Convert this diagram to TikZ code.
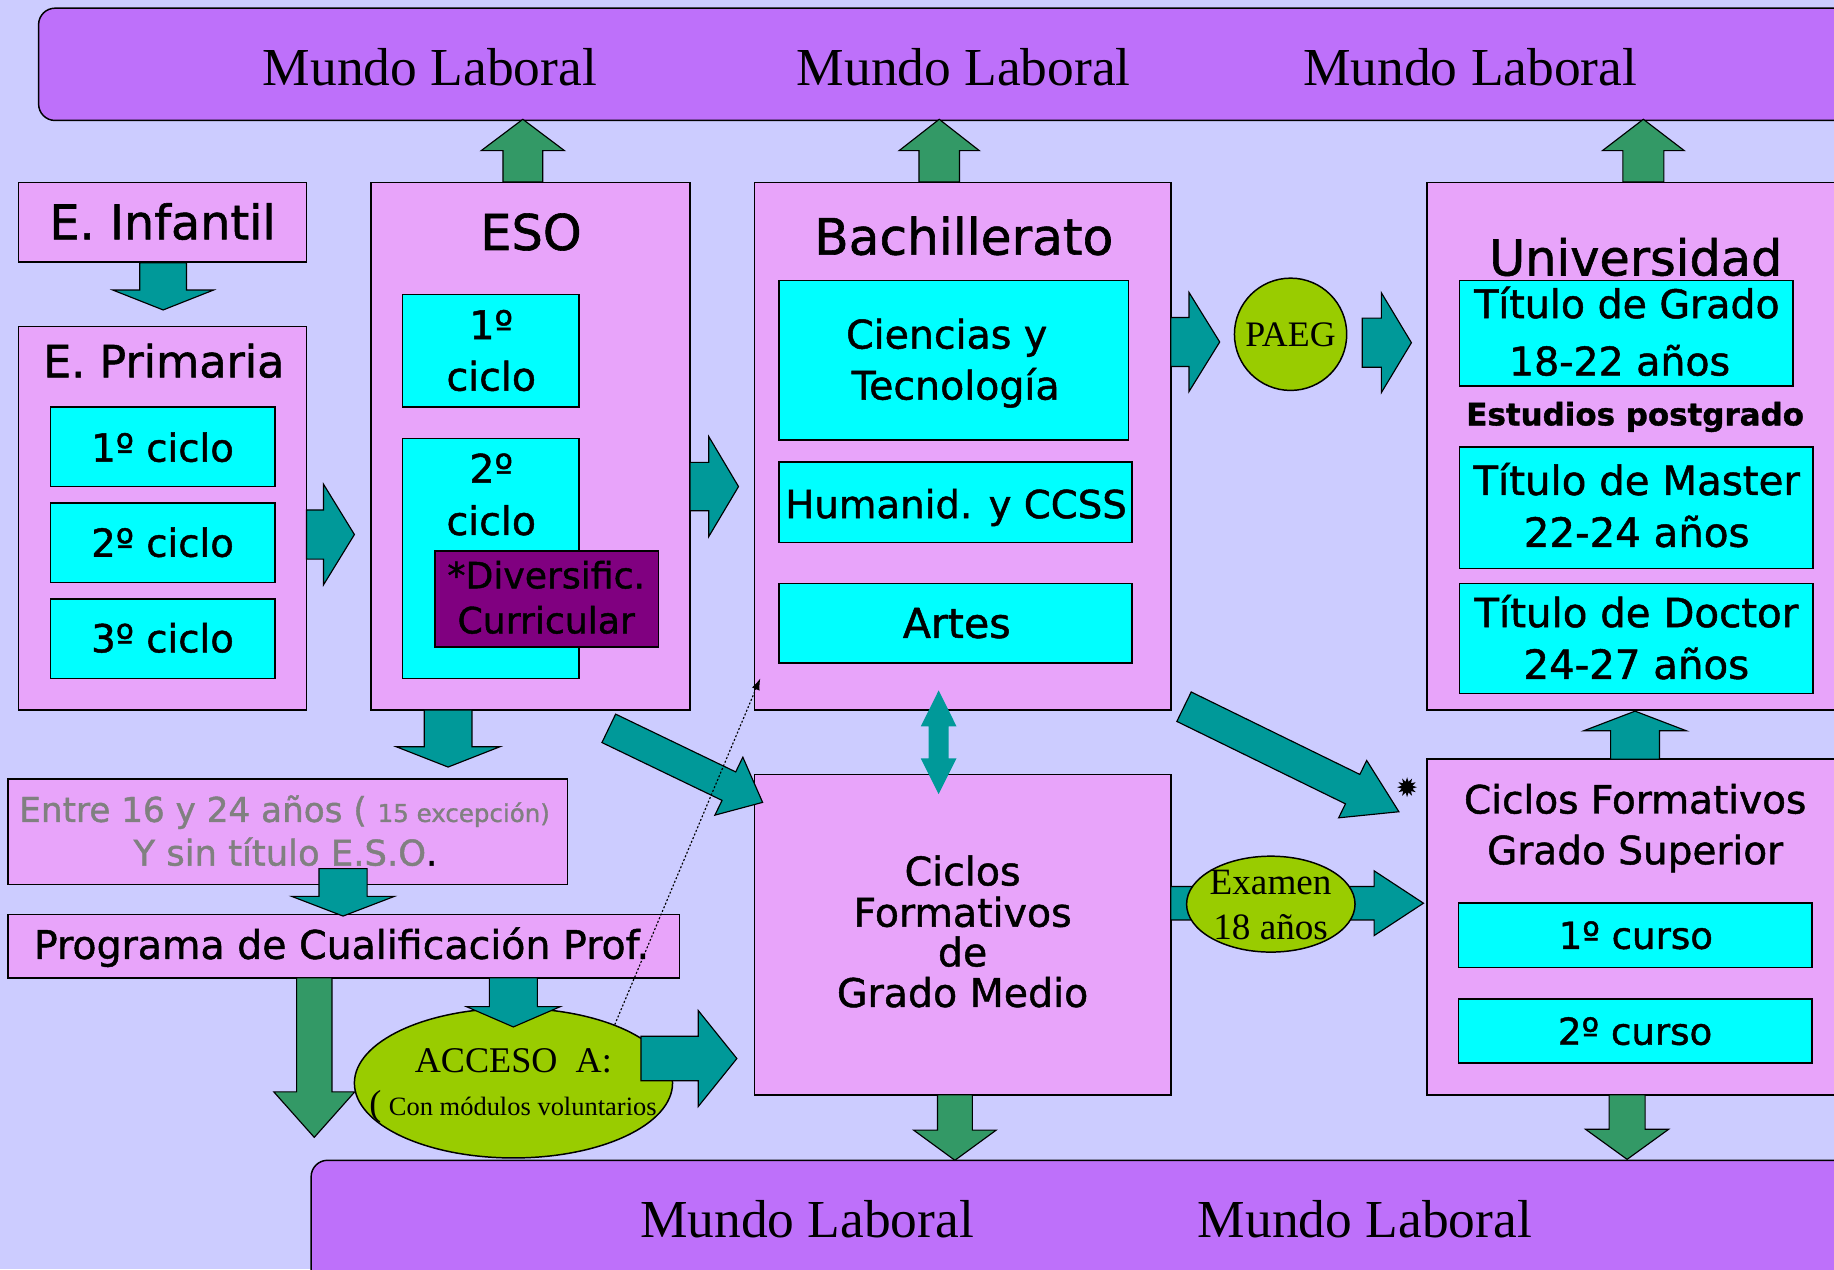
\documentclass[tikz,border=0pt]{standalone}
\usepackage{fontspec}
\setmainfont{Liberation Serif}
\newfontfamily\cs[FakeBold=1.2]{DejaVu Sans}
\usetikzlibrary{shapes.geometric,arrows.meta}
\definecolor{bgc}{RGB}{204,204,255}
\definecolor{barc}{RGB}{190,112,250}
\definecolor{pinkc}{RGB}{232,164,250}
\definecolor{cyanc}{RGB}{0,255,255}
\definecolor{divc}{RGB}{128,0,128}
\definecolor{tealc}{RGB}{0,153,153}
\definecolor{greenc}{RGB}{51,153,102}
\definecolor{ygc}{RGB}{153,204,0}
\definecolor{grayc}{RGB}{128,128,128}
\newcommand\fs[1]{\fontsize{#1pt}{#1pt}\selectfont}
\newcommand\mkbox[6]{\node[#2, inner sep=0pt, outer sep=0pt, minimum width={(#5-#3)*0.025cm}, minimum height={(#6-#4)*0.025cm}] (#1) at ({(#3+#5)/2},{(#4+#6)/2}) {};}
% vertical block arrow: xc, ytop, ybase, ytip, shaft half, head half, style
\newcommand\varr[7]{\path[#7] ({#1-#5},#2) -- ({#1+#5},#2) -- ({#1+#5},#3) -- ({#1+#6},#3) -- (#1,#4) -- ({#1-#6},#3) -- ({#1-#5},#3) -- cycle;}
% horizontal block arrow: yc, xtail, xbase, xtip, shaft half, head half, style
\newcommand\harr[7]{\path[#7] (#2,{#1-#5}) -- (#3,{#1-#5}) -- (#3,{#1-#6}) -- (#4,#1) -- (#3,{#1+#6}) -- (#3,{#1+#5}) -- (#2,{#1+#5}) -- cycle;}
\tikzset{
  pinkbox/.style={draw=black, fill=pinkc, line width=0.9pt},
  cyanbox/.style={draw=black, fill=cyanc, line width=0.9pt},
  divbox/.style={draw=black, fill=divc, line width=0.9pt},
  barsty/.style={draw=black, fill=barc, line width=0.9pt, rounded corners=10pt},
  ygbox/.style={ellipse, draw=black, fill=ygc, line width=0.9pt, inner sep=0pt},
  tealarr/.style={fill=tealc, draw=black, line width=0.7pt, line join=miter},
  greenarr/.style={fill=greenc, draw=black, line width=0.7pt, line join=miter},
  ct/.style={anchor=base, inner sep=0pt, outer sep=0pt},
  cst/.style={ct, font=\cs},
  mlab/.style={ct, font=\fs{32.5}},
}
\begin{document}
\begin{tikzpicture}[x=0.025cm, y=-0.025cm]
\fill[bgc] (0,0) rectangle (1568,1085);
\useasboundingbox (0,0) rectangle (1568,1085);
% bars
\mkbox{topbar}{barsty}{33}{7}{1640}{103}
\mkbox{botbar}{barsty}{266}{992}{1640}{1130}
% boxes
\mkbox{infantil}{pinkbox}{16}{156}{262}{224}
\mkbox{primaria}{pinkbox}{16}{279}{262}{607}
\mkbox{p1}{cyanbox}{43}{348}{235}{416}
\mkbox{p2}{cyanbox}{43}{430}{235}{498}
\mkbox{p3}{cyanbox}{43}{512}{235}{580}
\mkbox{eso}{pinkbox}{317}{156}{590}{607}
\mkbox{e1}{cyanbox}{344}{252}{495}{348}
\mkbox{e2}{cyanbox}{344}{375}{495}{580}
\mkbox{div}{divbox}{372}{471}{563}{553}
\mkbox{bach}{pinkbox}{645}{156}{1001}{607}
\mkbox{b1}{cyanbox}{666}{240}{965}{376}
\mkbox{b2}{cyanbox}{666}{395}{968}{464}
\mkbox{b3}{cyanbox}{666}{499}{968}{567}
\mkbox{univ}{pinkbox}{1220}{156}{1640}{607}
\mkbox{u1}{cyanbox}{1248}{240}{1533}{330}
\mkbox{u2}{cyanbox}{1248}{382}{1550}{486}
\mkbox{u3}{cyanbox}{1248}{499}{1550}{593}
\mkbox{entre}{pinkbox}{7}{666}{485}{756}
\mkbox{pcp}{pinkbox}{7}{782}{581}{836}
\mkbox{cfgm}{pinkbox}{645}{662}{1001}{936}
\mkbox{cfgs}{pinkbox}{1220}{649}{1640}{936}
\mkbox{s1}{cyanbox}{1247}{772}{1549}{827}
\mkbox{s2}{cyanbox}{1247}{854}{1549}{909}
% access ellipse
\node[ygbox, minimum width={272*0.025cm}, minimum height={128*0.025cm}] (acc) at (439,926) {};
% vertical arrows
\varr{139.5}{224.6}{248}{265}{20}{43}{tealarr}
\varr{447}{155.6}{128.8}{102}{17}{35.6}{greenarr}
\varr{803}{155.6}{128.8}{102}{17.3}{34.3}{greenarr}
\varr{1405}{155.6}{128.8}{102}{17.5}{35}{greenarr}
\varr{383.1}{607}{638.4}{655.8}{20.4}{44.4}{tealarr}
\varr{293.3}{742.6}{766.4}{783.2}{20.6}{43.8}{tealarr}
\varr{268.7}{836}{933.5}{972.4}{15.1}{34.6}{greenarr}
\varr{438.9}{836}{860.6}{878}{20.5}{40.2}{tealarr}
\varr{816.4}{936}{966.2}{992}{14.9}{35.3}{greenarr}
\varr{1391.1}{936}{965.5}{991.2}{15.4}{35.5}{greenarr}
\varr{1397.9}{649}{624.8}{608}{20.9}{43.9}{tealarr}
% horizontal arrows
\harr{457}{262}{276.6}{303}{21}{43}{tealarr}
\harr{416}{590}{606}{631.4}{20.7}{42.7}{tealarr}
\harr{292.4}{1001}{1016.6}{1042.8}{20.9}{42.3}{tealarr}
\harr{293}{1164.7}{1181}{1206.7}{21}{42.7}{tealarr}
\harr{905}{548}{597}{630}{19}{41}{tealarr}
\harr{772.2}{1001}{1174.8}{1217}{14.3}{27.7}{tealarr}
% double arrow
\fill[tealc] (802.5,590.3) -- (817.8,621) -- (811,621) -- (811,648.4) -- (817.8,648.4) -- (802.5,678.9) -- (787.2,648.4) -- (794,648.4) -- (794,621) -- (787.2,621) -- cycle;
% diagonal arrows
\path[tealarr] (526.35,610.54) -- (629.01,659.96) -- (635.09,647.34) -- (652,686) -- (611.23,696.9) -- (617.31,684.28) -- (514.65,634.86) -- cycle;
\path[tealarr] (1018.45,591.62) -- (1162.62,662.1) -- (1168.46,650.15) -- (1196,694) -- (1144.48,699.21) -- (1150.32,687.26) -- (1006.15,616.78) -- cycle;
% ellipses
\node[ygbox, minimum width={144*0.025cm}, minimum height={82*0.025cm}] (exam) at (1086.5,773) {};
\node[ygbox, minimum width={96*0.025cm}, minimum height={96*0.025cm}] (paeg) at (1103.4,285.8) {};
% burst
\node[star, star points=12, star point ratio=1.8, fill=black, minimum size={17*0.025cm}, inner sep=0pt] (burst) at (1203,673) {};
% texts Mundo Laboral
\node[mlab] (ml1) at (367.5,72.7) {Mundo Laboral};
\node[mlab] (ml2) at (824,72.7) {Mundo Laboral};
\node[mlab] (ml3) at (1257,72.7) {Mundo Laboral};
\node[mlab] (ml4) at (690,1058) {Mundo Laboral};
\node[mlab] (ml5) at (1167,1058) {Mundo Laboral};
% comic texts
\node[cst, font=\cs\fs{29}] (tinf) at (139,204.6) {E. Infantil};
\node[cst, font=\cs\fs{27}] (tprim) at (140,322.6) {E. Primaria};
\node[cst, font=\cs\fs{23.5}] (tp1) at (139,394.7) {1º ciclo};
\node[cst, font=\cs\fs{23.5}] (tp2) at (139,476) {2º ciclo};
\node[cst, font=\cs\fs{23.5}] (tp3) at (139,557.7) {3º ciclo};
\node[cst, font=\cs\fs{30}] (teso) at (454,213.7) {ESO};
\node[cst, font=\cs\fs{24}] (te1a) at (420,290) {1º};
\node[cst, font=\cs\fs{24}] (te1b) at (420,334) {ciclo};
\node[cst, font=\cs\fs{24}] (te2a) at (420,412.7) {2º};
\node[cst, font=\cs\fs{24}] (te2b) at (420,457.4) {ciclo};
\node[cst, font=\cs\fs{22}] (td1) at (467,503) {*Diversific.};
\node[cst, font=\cs\fs{22}] (td2) at (467,541.5) {Curricular};
\node[cst, font=\cs\fs{30.5}] (tbach) at (824,217.7) {Bachillerato};
\node[cst, font=\cs\fs{24}] (tb1a) at (809.4,298) {Ciencias y};
\node[cst, font=\cs\fs{24}] (tb1b) at (817,341.6) {Tecnología};
\node[cst, font=\cs\fs{23.5}] (tb2) at (817.4,443) {Humanid. y CCSS};
\node[cst, font=\cs\fs{25}] (tb3) at (818,545.4) {Artes};
\node[cst, font=\cs\fs{30}] (tuniv) at (1398.5,235.5) {Universidad};
\node[cst, font=\cs\fs{24}] (tu1a) at (1391,272) {Título de Grado};
\node[cst, font=\cs\fs{24}] (tu1b) at (1384.7,321) {18-22 años};
\node[cst, font=\cs\bfseries\fs{18.8}] (tpost) at (1398,363.7) {Estudios postgrado};
\node[cst, font=\cs\fs{24.5}] (tu2a) at (1399.3,423.2) {Título de Master};
\node[cst, font=\cs\fs{24.5}] (tu2b) at (1399.3,467.5) {22-24 años};
\node[cst, font=\cs\fs{24.5}] (tu3a) at (1399,536.2) {Título de Doctor};
\node[cst, font=\cs\fs{24.5}] (tu3b) at (1399,580.4) {24-27 años};
\node[cst, anchor=base west, font=\cs\fs{20.8}, text=grayc] (ten1) at (16.5,702.7) {Entre 16 y 24 años ( {\fs{14.9}15 excepción)}};
\node[cst, font=\cs\fs{21.5}, text=grayc] (ten2) at (244,740) {Y sin título E.S.O\textcolor{black}{.}};
\node[cst, font=\cs\fs{24}] (tpcp) at (292,819.8) {Programa de Cualificación Prof.};
\node[cst, font=\cs\fs{24}] (tcm1) at (823,757) {Ciclos};
\node[cst, font=\cs\fs{24}] (tcm2) at (823,792.3) {Formativos};
\node[cst, font=\cs\fs{24}] (tcm3) at (823,826.2) {de};
\node[cst, font=\cs\fs{24}] (tcm4) at (823,860.9) {Grado Medio};
\node[cst, font=\cs\fs{23.7}] (tcs1) at (1398,695.5) {Ciclos Formativos};
\node[cst, font=\cs\fs{23.7}] (tcs2) at (1398,738.9) {Grado Superior};
\node[cst, font=\cs\fs{22.6}] (ts1) at (1398.6,811.2) {1º curso};
\node[cst, font=\cs\fs{22.6}] (ts2) at (1398,893.2) {2º curso};
% serif texts
\node[ct, font=\fs{21.8}] (tpaeg) at (1103.3,296.5) {PAEG};
\node[ct, font=\fs{22}] (tacc) at (438.9,917) {ACCESO\ \ A:};
\node[ct, font=\fs{22}] (tpar) at (321,954) {(};
\node[ct, anchor=base west, font=\fs{16.1}] (tcon) at (332.5,954) {Con módulos voluntarios};
\node[ct, font=\fs{22.6}] (tex1) at (1086.3,765) {Examen};
\node[ct, font=\fs{22.6}] (tex2) at (1086.3,802.9) {18 años};
% dotted connector
\coordinate (dotend) at (650,580);
\draw[line width=0.7pt, dash pattern=on 1.2pt off 1.2pt, -{Latex[length=7pt,width=5pt]}] (acc.30) -- (dotend);
\end{tikzpicture}
\end{document}
